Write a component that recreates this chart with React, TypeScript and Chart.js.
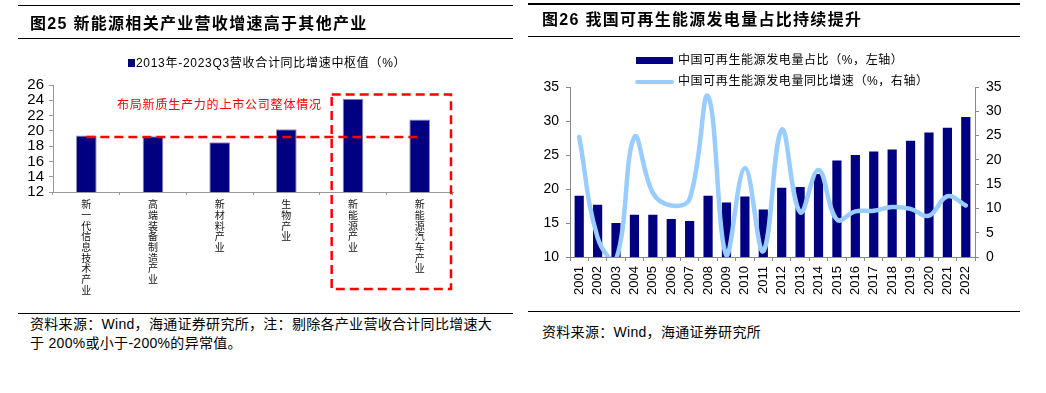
import React, { useEffect, useRef } from "react";
import { Chart, registerables } from "chart.js";

Chart.register(...registerables);

// ---------- Left chart data ----------
const leftCategories = ["新一代信息技术产业", "高端装备制造产业", "新材料产业", "生物产业", "新能源产业", "新能源汽车产业"];
const leftValues = [19.4, 19.3, 18.5, 20.2, 24.2, 21.5];
const leftBaseline = [19.2, 19.2, 19.2, 19.2, 19.2, 19.2];
const leftYMin = 12;
const leftYMax = 26;
const leftYStep = 2;

// ---------- Right chart data ----------
const years = ["2001", "2002", "2003", "2004", "2005", "2006", "2007", "2008", "2009", "2010", "2011",
  "2012", "2013", "2014", "2015", "2016", "2017", "2018", "2019", "2020", "2021", "2022"];
const shareValues = [19.0, 17.7, 15.0, 16.2, 16.2, 15.6, 15.3, 19.0, 18.0, 18.9, 17.0,
  20.2, 20.3, 22.2, 24.2, 25.0, 25.5, 25.8, 27.1, 28.3, 29.0, 30.6];
const growthValues = [24.7, 4.0, -0.5, 24.7, 13.2, 10.6, 12.0, 33.1, 0.3, 18.3, 1.2,
  26.2, 9.2, 17.9, 7.7, 9.4, 9.5, 10.3, 9.9, 8.5, 12.5, 10.6];
const leftAxisRange = [10, 35];
const rightAxisRange = [0, 35];

const NUM_FONT = '"Liberation Sans", Arial, "Noto Sans CJK SC", sans-serif';
const CJK_FONT = '"Liberation Sans", "Noto Sans CJK SC", sans-serif';
const NAVY = "#000080";
const LIGHT_BLUE = "#99CCFF";

const rectPlugin = {
  id: "highlightRect",
  afterDatasetsDraw(chart: any) {
    const { ctx, chartArea, scales } = chart;
    const x = scales.x;
    const y = scales.y;
    const w = x.getPixelForValue(1) - x.getPixelForValue(0);
    const left = x.getPixelForValue(4) - w / 2 + 12;
    const right = x.getPixelForValue(5) + w / 2 - 2;
    const top = y.getPixelForValue(24.75);
    const bottom = chartArea.bottom + 97;
    ctx.save();
    ctx.strokeStyle = "#FF0000";
    ctx.lineWidth = 2.5;
    ctx.setLineDash([9, 5]);
    ctx.strokeRect(left, top, right - left, bottom - top);
    ctx.restore();
  },
};

function LeftChart() {
  const ref = useRef<HTMLCanvasElement>(null);
  useEffect(() => {
    const chart = new Chart(ref.current as HTMLCanvasElement, {
      type: "bar",
      data: {
        labels: leftCategories.map((s) => s.split("")),
        datasets: [
          {
            type: "line",
            data: leftBaseline,
            borderColor: "#FF0000",
            borderWidth: 2.5,
            borderDash: [9, 5],
            pointRadius: 0,
            fill: false,
            order: 0,
          } as any,
          {
            type: "bar",
            data: leftValues,
            backgroundColor: NAVY,
            borderColor: "#8C8CC0",
            borderWidth: 1,
            barPercentage: 0.31,
            categoryPercentage: 1,
            order: 1,
          } as any,
        ],
      },
      options: {
        responsive: false,
        animation: false,
        devicePixelRatio: 1,
        layout: { padding: { left: 0, top: 85, right: 67, bottom: 0 } },
        plugins: { legend: { display: false }, tooltip: { enabled: false } },
        scales: {
          x: {
            grid: { display: true, drawOnChartArea: false, tickLength: 3, color: "#999" },
            border: { color: "#999" },
            ticks: {
              color: "#111",
              font: { family: CJK_FONT, size: 10, lineHeight: 1.07 },
              padding: 5,
              maxRotation: 0,
              minRotation: 0,
              autoSkip: false,
            },
            afterFit: (s: any) => {
              s.height = 108;
            },
          },
          y: {
            min: leftYMin,
            max: leftYMax,
            ticks: {
              stepSize: leftYStep,
              autoSkip: false,
              color: "#000",
              font: { family: NUM_FONT, size: 15 },
              padding: 5,
            },
            grid: { drawOnChartArea: false, tickLength: 4, color: "#999" },
            border: { color: "#999" },
            afterFit: (s: any) => {
              s.width = 53;
            },
          },
        },
      } as any,
      plugins: [rectPlugin],
    });
    return () => chart.destroy();
  }, []);
  return (
    <canvas
      ref={ref}
      width={520}
      height={300}
      style={{ position: "absolute", left: 0, top: 0, width: 520, height: 300 }}
    />
  );
}

function RightChart() {
  const ref = useRef<HTMLCanvasElement>(null);
  useEffect(() => {
    const chart = new Chart(ref.current as HTMLCanvasElement, {
      type: "bar",
      data: {
        labels: years,
        datasets: [
          {
            type: "line",
            data: growthValues,
            yAxisID: "y1",
            borderColor: LIGHT_BLUE,
            borderWidth: 4.5,
            tension: 0.4,
            pointRadius: 0,
            fill: false,
            borderCapStyle: "round",
            borderJoinStyle: "round",
            order: 0,
          } as any,
          {
            type: "bar",
            data: shareValues,
            yAxisID: "y",
            backgroundColor: NAVY,
            barPercentage: 0.5,
            categoryPercentage: 1,
            order: 1,
          } as any,
        ],
      },
      options: {
        responsive: false,
        animation: false,
        devicePixelRatio: 1,
        layout: { padding: { left: 0, top: 87, right: 31, bottom: 0 } },
        plugins: { legend: { display: false }, tooltip: { enabled: false } },
        scales: {
          x: {
            grid: { display: true, drawOnChartArea: false, tickLength: 4, color: "#888" },
            border: { color: "#888" },
            ticks: {
              color: "#000",
              font: { family: NUM_FONT, size: 13 },
              padding: 5,
              minRotation: 90,
              maxRotation: 90,
              autoSkip: false,
            },
            afterFit: (s: any) => {
              s.height = 43;
            },
          },
          y: {
            position: "left",
            min: leftAxisRange[0],
            max: leftAxisRange[1],
            ticks: { stepSize: 5, autoSkip: false, color: "#000", font: { family: NUM_FONT, size: 14 }, padding: 7 },
            grid: { drawOnChartArea: false, tickLength: 4, color: "#888" },
            border: { color: "#888" },
            afterFit: (s: any) => {
              s.width = 50;
            },
          },
          y1: {
            position: "right",
            min: rightAxisRange[0],
            max: rightAxisRange[1],
            ticks: { stepSize: 5, autoSkip: false, color: "#000", font: { family: NUM_FONT, size: 14 }, padding: 7 },
            grid: { drawOnChartArea: false, tickLength: 4, color: "#888" },
            border: { color: "#888" },
            afterFit: (s: any) => {
              s.width = 40;
            },
          },
        },
      } as any,
    });
    return () => chart.destroy();
  }, []);
  return (
    <canvas
      ref={ref}
      width={526}
      height={300}
      style={{ position: "absolute", left: 520, top: 0, width: 526, height: 300 }}
    />
  );
}

const rule = (left: number, top: number, width: number): React.CSSProperties => ({
  position: "absolute",
  left,
  top,
  width,
  height: 1.5,
  background: "#000",
});

const text = (
  left: number,
  centerY: number,
  size: number,
  extra: React.CSSProperties = {}
): React.CSSProperties => ({
  position: "absolute",
  left,
  top: centerY - size * 0.7,
  lineHeight: `${size * 1.4}px`,
  fontSize: size,
  fontFamily: CJK_FONT,
  color: "#000",
  whiteSpace: "nowrap",
  ...extra,
});

export default function App() {
  return (
    <div
      style={{
        position: "fixed",
        left: 0,
        top: 0,
        width: 1046,
        height: 393,
        background: "#fff",
        overflow: "hidden",
      }}
    >
      <LeftChart />
      <RightChart />

      {/* Left panel */}
      <div style={rule(18, 4.5, 495)} />
      <div style={text(30, 24, 16, { fontWeight: 700, letterSpacing: 1.3 })}>图25 新能源相关产业营收增速高于其他产业</div>
      <div style={rule(18, 37.5, 495)} />
      <div style={{ position: "absolute", left: 128, top: 59, width: 7, height: 8, background: NAVY }} />
      <div style={text(136, 63, 12, { letterSpacing: 0.7 })}>2013年-2023Q3营收合计同比增速中枢值（%）</div>
      <div style={text(117, 105, 12, { color: "#FF0000", letterSpacing: 0.8 })}>布局新质生产力的上市公司整体情况</div>
      <div style={rule(18, 312.5, 495)} />
      <div style={text(30, 324, 14, { letterSpacing: 0.3, lineHeight: "19px", top: 314.5 })}>
        资料来源：Wind，海通证券研究所，注：剔除各产业营收合计同比增速大
        <br />于 200%或小于-200%的异常值。
      </div>

      {/* Right panel */}
      <div style={rule(528, 3, 492)} />
      <div style={text(542, 20, 16, { fontWeight: 700, letterSpacing: 1.3 })}>图26 我国可再生能源发电量占比持续提升</div>
      <div style={rule(528, 35.5, 492)} />
      <div style={{ position: "absolute", left: 636, top: 57, width: 37, height: 6.5, background: NAVY }} />
      <div style={text(678, 60.7, 12, { letterSpacing: 0.6 })}>中国可再生能源发电量占比（%，左轴）</div>
      <div
        style={{
          position: "absolute",
          left: 635,
          top: 80,
          width: 39,
          height: 4,
          borderRadius: 2,
          background: LIGHT_BLUE,
        }}
      />
      <div style={text(678, 81.7, 12, { letterSpacing: 0.6 })}>中国可再生能源发电量同比增速（%，右轴）</div>
      <div style={rule(528, 310.5, 492)} />
      <div style={text(542, 333, 14, { letterSpacing: 0.3 })}>资料来源：Wind，海通证券研究所</div>
    </div>
  );
}
